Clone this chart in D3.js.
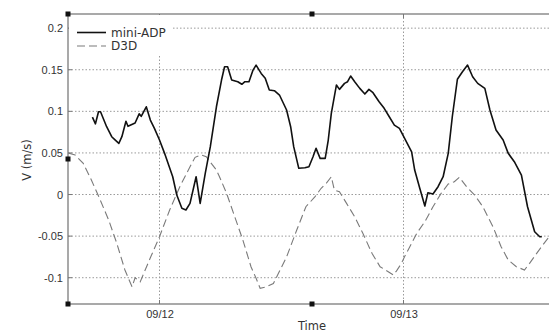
<!DOCTYPE html>
<html lang="en">
<head>
  <meta charset="UTF-8" />
  <title>mini-ADP vs D3D</title>
  <script src="https://d3js.org/d3.v7.min.js"></script>
  <style>
    body { margin: 0; background: #fff; }
    svg { display: block; font-family: "DejaVu Sans", sans-serif; }
    .tick text { fill: #333; font-size: 11px; }
  </style>
</head>
<body>
<svg id="chart"></svg>
<script>
// hours since 09/11 00:00
const adpHours = [17.4,17.7,18.0,18.2,18.8,19.3,19.6,20.0,20.3,20.7,20.9,21.6,22.0,22.2,22.7,23.1,23.5,24.0,24.5,24.9,
  25.3,25.7,26.2,26.6,27.0,27.6,28.0,28.5,29.0,29.6,30.1,30.4,30.7,31.1,31.7,32.1,32.4,32.8,33.2,33.5,
  34.0,34.4,34.8,35.3,35.8,36.5,36.9,37.2,37.7,38.3,38.7,39.1,39.4,39.8,40.3,40.6,40.9,41.4,41.7,42.2,
  42.5,42.8,43.2,43.7,44.2,44.6,45.0,45.6,46.1,46.6,47.1,47.6,48.2,48.8,49.1,49.6,50.1,50.4,50.9,51.4,
  51.9,52.4,52.8,53.3,53.8,54.3,54.8,55.3,56.0,56.5,57.1,57.8,58.3,58.9,59.6,60.2,60.9,61.4,61.6];
const adpValues = [0.093,0.085,0.0995,0.0995,0.0815,0.0695,0.066,0.0615,0.0695,0.088,0.082,0.086,0.097,0.094,0.1055,0.0895,0.0795,0.0655,0.0495,0.0355,
  0.0214,-0.0006,-0.0166,-0.0186,-0.0106,0.0214,-0.0106,0.0255,0.0575,0.1055,0.1376,0.1536,0.1536,0.1376,0.1356,0.1325,0.1356,0.1356,0.1496,0.1556,
  0.1456,0.1397,0.1256,0.1248,0.1196,0.1016,0.0815,0.0575,0.0315,0.0322,0.0334,0.0454,0.0555,0.0435,0.0435,0.0655,0.0976,0.1316,0.1264,0.1336,
  0.1356,0.1424,0.1356,0.1276,0.1208,0.1264,0.1224,0.1115,0.1036,0.0935,0.0835,0.0795,0.0655,0.0514,0.0294,0.0075,-0.0138,0.0022,0.0006,0.0094,
  0.0214,0.0495,0.0935,0.1385,0.1476,0.1556,0.1416,0.1336,0.1276,0.1016,0.0775,0.0655,0.0495,0.0394,0.0234,-0.0147,-0.0447,-0.0507,-0.0507];

const d3dHours = [15.0,15.7,16.5,17.3,18.1,19.0,19.8,20.6,21.3,21.6,22.1,23.1,24.0,25.0,26.0,27.0,27.5,28.1,28.6,29.6,
  29.9,30.6,31.4,32.2,33.0,33.5,33.9,34.5,35.2,35.7,36.5,37.5,38.4,39.3,39.9,40.4,40.9,41.2,41.7,42.4,
  43.2,44.0,44.9,45.7,46.5,47.0,47.3,47.8,48.1,48.8,49.3,50.1,50.9,51.7,52.4,53.0,53.5,54.2,55.0,55.8,
  56.8,57.6,58.3,59.1,59.9,60.4,61.1,61.7,62.2,63.0];
const d3dValues = [0.050,0.0475,0.0375,0.0174,-0.0046,-0.0306,-0.0587,-0.0907,-0.111,-0.100,-0.105,-0.076,-0.0507,-0.0186,0.0094,0.0334,0.0447,0.0475,0.0454,0.0294,
  0.0214,0.0014,-0.0267,-0.0547,-0.0868,-0.1007,-0.1127,-0.111,-0.107,-0.0947,-0.075,-0.0427,-0.0147,-0.0026,0.0075,0.0135,0.0214,0.0054,0.0034,-0.0106,
  -0.0267,-0.0466,-0.0707,-0.0868,-0.0928,-0.0968,-0.092,-0.0827,-0.0747,-0.0587,-0.0466,-0.0327,-0.0147,0.0014,0.0126,0.0154,0.0207,0.0094,-0.0006,-0.0147,
  -0.0387,-0.0627,-0.0787,-0.0868,-0.0907,-0.0827,-0.0707,-0.0607,-0.0527,-0.045];

const yTicks = [-0.1, -0.05, 0, 0.05, 0.1, 0.15, 0.2];
const xTickLabels = ["09/12", "09/13"];
const seriesNames = ["mini-ADP", "D3D"];

const W = 549, H = 332;
const padL = 68, padT = 14, padR = 556, padB = 304;
const base = new Date(2012, 8, 11);
const toDate = h => new Date(base.getTime() + h * 3600000);

const svg = d3.select("#chart").attr("width", W).attr("height", H);

const x = d3.scaleTime().domain([toDate(15), toDate(63)]).range([padL, padR]);
const y = d3.scaleLinear().domain([-0.1316, 0.217]).range([padB, padT]);
const xTickDates = xTickLabels.map(s => { const [m, d] = s.split("/"); return new Date(2012, +m - 1, +d); });

// grid
const grid = svg.append("g").attr("stroke", "#9a9a9a").attr("stroke-width", 1).attr("stroke-dasharray", "1.5,2");
grid.selectAll("line.h").data(yTicks).enter().append("line")
  .attr("x1", padL).attr("x2", padR).attr("y1", d => y(d)).attr("y2", d => y(d));
grid.selectAll("line.v").data(xTickDates).enter().append("line")
  .attr("x1", d => x(d)).attr("x2", d => x(d)).attr("y1", padT).attr("y2", padB);

// series
const line = d3.line().x(d => x(toDate(d[0]))).y(d => y(d[1]));
svg.append("path").datum(d3dHours.map((h, i) => [h, d3dValues[i]]))
  .attr("fill", "none").attr("stroke", "#7a7a7a").attr("stroke-width", 1.1)
  .attr("stroke-dasharray", "8,4").attr("d", line);
svg.append("path").datum(adpHours.map((h, i) => [h, adpValues[i]]))
  .attr("fill", "none").attr("stroke", "#111").attr("stroke-width", 1.6)
  .attr("stroke-linejoin", "round").attr("d", line);

// frame
const frame = svg.append("g").attr("stroke", "#8c8c8c").attr("stroke-width", 1.5).attr("fill", "none");
frame.append("line").attr("x1", padL).attr("x2", padR).attr("y1", padT).attr("y2", padT);
frame.append("line").attr("x1", padL).attr("x2", padR).attr("y1", padB).attr("y2", padB);
frame.append("line").attr("x1", padL).attr("x2", padL).attr("y1", padT).attr("y2", padB);

// inward tick marks
const ticks = svg.append("g").attr("stroke", "#777").attr("stroke-width", 1);
ticks.selectAll("line.y").data(yTicks).enter().append("line")
  .attr("x1", padL).attr("x2", padL + 4).attr("y1", d => y(d)).attr("y2", d => y(d));
ticks.selectAll("line.xb").data(xTickDates).enter().append("line")
  .attr("x1", d => x(d)).attr("x2", d => x(d)).attr("y1", padB).attr("y2", padB - 4);
ticks.selectAll("line.xt").data(xTickDates).enter().append("line")
  .attr("x1", d => x(d)).attr("x2", d => x(d)).attr("y1", padT).attr("y2", padT + 4);

// axes labels
const yAxis = svg.append("g").attr("transform", `translate(${padL},0)`)
  .call(d3.axisLeft(y).tickValues(yTicks).tickSize(0).tickPadding(5).tickFormat(d => String(d)));
yAxis.select(".domain").remove();

const xAxis = svg.append("g").attr("transform", `translate(0,${padB})`)
  .call(d3.axisBottom(x).tickValues(xTickDates).tickSize(0).tickPadding(6).tickFormat((d, i) => xTickLabels[i]));
xAxis.select(".domain").remove();

svg.append("text").attr("x", (padL + padR) / 2).attr("y", 329.5).attr("text-anchor", "middle")
  .attr("font-size", 11.5).attr("fill", "#333").text("Time");
svg.append("text").attr("transform", "translate(31,160) rotate(-90)").attr("text-anchor", "middle")
  .attr("font-size", 11.5).attr("fill", "#333").text("V (m/s)");

// legend
const legend = svg.append("g");
legend.append("rect").attr("x", padL + 1).attr("y", padT + 1).attr("width", 104).attr("height", 40).attr("fill", "#fff");
const styles = [{stroke: "#111", w: 1.6, dash: null}, {stroke: "#7a7a7a", w: 1.1, dash: "8,4"}];
seriesNames.forEach((name, i) => {
  const ly = 32.5 + i * 13.5;
  legend.append("line").attr("x1", 77).attr("x2", 106).attr("y1", ly).attr("y2", ly)
    .attr("stroke", styles[i].stroke).attr("stroke-width", styles[i].w)
    .attr("stroke-dasharray", styles[i].dash);
  legend.append("text").attr("x", 111).attr("y", ly + 4.3).attr("font-size", 12)
    .attr("fill", "#333").text(name);
});

// selection handles
const handles = [[padL, padT], [(padL + padR) / 2, padT], [padL, (padT + padB) / 2], [padL, padB], [(padL + padR) / 2, padB]];
svg.append("g").selectAll("rect").data(handles).enter().append("rect")
  .attr("x", d => d[0] - 2.5).attr("y", d => d[1] - 2.5).attr("width", 5).attr("height", 5).attr("fill", "#111");
</script>
</body>
</html>
